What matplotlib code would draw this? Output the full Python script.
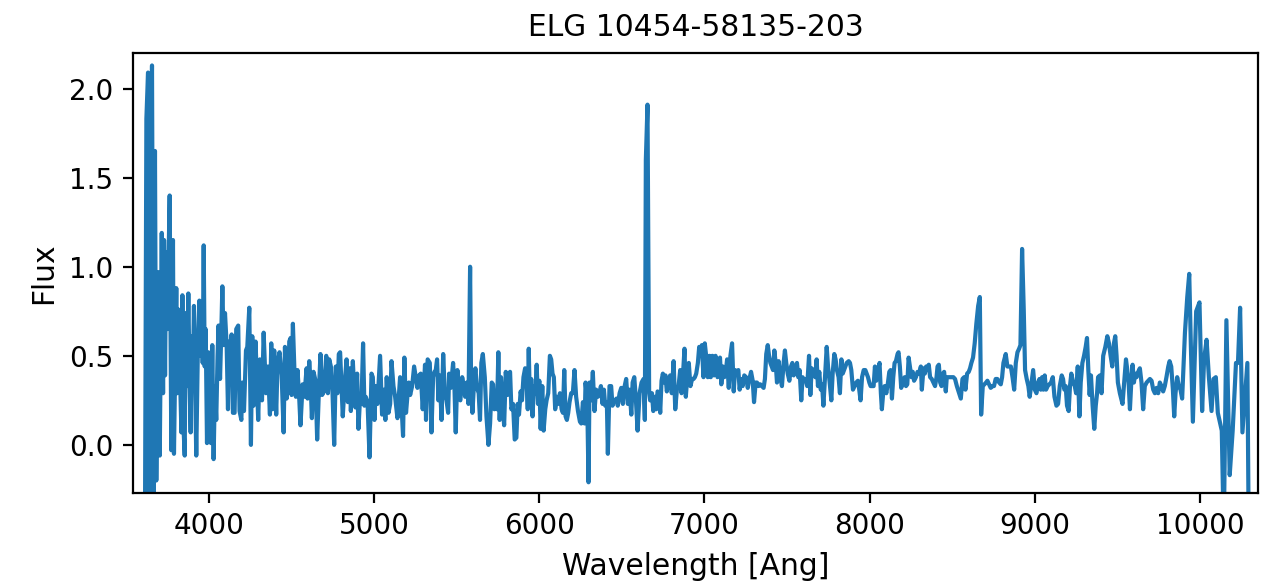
import matplotlib
matplotlib.use("Agg")
import matplotlib.pyplot as plt
import numpy as np

## Espectro leído por tramos (longitud de onda en Angstrom, flujo)
wave_a = [3612, 3621, 3631, 3640, 3648, 3655, 3665, 3673, 3681, 3694, 3702, 3714, 3722, 3728, 3734, 3740, 3748, 3762, 3772, 3782,
          3788, 3802, 3808, 3815, 3823, 3833, 3839, 3847, 3853, 3859, 3867, 3875, 3883, 3889, 3895, 3903, 3909, 3915, 3923, 3933,
          3942, 3950, 3956, 3962, 3968, 3974, 3980, 3988, 3996, 4004, 4012, 4020, 4028, 4036, 4044, 4052, 4058, 4067, 4075, 4081,
          4089, 4097, 4107, 4115, 4121, 4129, 4137, 4145, 4155, 4165, 4177, 4185, 4196, 4202]
flux_a = [-0.6, 1.83, 2.09, -0.5, 1.6, 2.13, -0.4, 1.65, -0.2, 0.97, -0.06, 1.19, 0.29, 1.15, 0.39, 1.08, 0.65, 1.40, -0.03, 1.15,
          -0.05, 0.88, 0.29, 0.76, 0.46, 0.07, 0.84, 0.07, -0.06, 0.74, 0.33, 0.85, 0.33, 0.07, 0.61, 0.40, 0.78, 0.39, -0.06, 0.56,
          0.81, 0.50, 0.76, 0.46, 1.12, 0.44, 0.65, 0.01, 0.52, 0.50, 0.01, 0.56, -0.08, 0.33, 0.14, 0.50, 0.67, 0.37, 0.65, 0.89,
          0.56, 0.74, 0.56, 0.20, 0.58, 0.40, 0.62, 0.18, 0.18, 0.65, 0.67, 0.19, 0.14, 0.35]

wave_b = [4212, 4224, 4232, 4244, 4254, 4262, 4270, 4282, 4298, 4308, 4321, 4331, 4345, 4357, 4369, 4377, 4385, 4395, 4407, 4415,
          4427, 4440, 4452, 4460, 4470, 4482, 4486, 4494, 4500, 4508, 4518, 4526, 4536, 4546, 4554, 4567, 4577, 4591, 4597, 4607,
          4615, 4623, 4633, 4645, 4655, 4665, 4675, 4685, 4696, 4710, 4720, 4728, 4738, 4748, 4758, 4768, 4778, 4786]
flux_b = [0.19, 0.53, 0.55, 0.77, 0.0, 0.61, 0.22, 0.58, 0.14, 0.48, 0.25, 0.63, 0.29, 0.44, 0.17, 0.57, 0.20, 0.53, 0.17, 0.46,
          0.52, 0.39, 0.07, 0.55, 0.26, 0.38, 0.58, 0.60, 0.28, 0.68, 0.40, 0.27, 0.42, 0.27, 0.11, 0.34, 0.27, 0.43, 0.26, 0.47,
          0.36, 0.15, 0.41, 0.36, 0.03, 0.29, 0.51, 0.28, 0.30, 0.50, 0.29, 0.48, 0.44, 0.29, 0.0, 0.44, 0.29, 0.51]

wave_c = [4794, 4810, 4822, 4833, 4841, 4851, 4859, 4871, 4879, 4887, 4897, 4905, 4915, 4923, 4933, 4941, 4949, 4960, 4972, 4984,
          4992, 5002, 5010, 5020, 5036, 5048, 5058, 5068, 5076, 5087, 5097, 5105, 5117, 5127, 5141, 5157, 5167, 5175, 5183, 5193,
          5201, 5210, 5218, 5230, 5242, 5252, 5262, 5272, 5282, 5294, 5302, 5308, 5314, 5324, 5337, 5347, 5357, 5365]
flux_c = [0.52, 0.16, 0.35, 0.48, 0.24, 0.43, 0.19, 0.47, 0.31, 0.21, 0.40, 0.09, 0.27, 0.23, 0.57, 0.22, 0.27, 0.24, -0.07, 0.40,
          0.38, 0.14, 0.33, 0.23, 0.50, 0.17, 0.31, 0.14, 0.38, 0.18, 0.23, 0.47, 0.33, 0.27, 0.15, 0.38, 0.19, 0.05, 0.49, 0.18,
          0.27, 0.35, 0.28, 0.33, 0.44, 0.38, 0.32, 0.39, 0.40, 0.20, 0.35, 0.45, 0.14, 0.48, 0.46, 0.07, 0.38, 0.41]

wave_d = [5373, 5381, 5389, 5397, 5408, 5418, 5428, 5438, 5448, 5454, 5464, 5478, 5486, 5494, 5504, 5512, 5522, 5533, 5543, 5551,
          5561, 5571, 5581, 5587, 5595, 5605, 5613, 5623, 5633, 5641, 5649, 5658, 5670, 5680, 5692, 5702, 5712, 5720, 5728, 5736,
          5744, 5752, 5760, 5768, 5776, 5787, 5797, 5807, 5815, 5823, 5831, 5841, 5851, 5861, 5869, 5877, 5887, 5895, 5904, 5914,
          5922, 5930, 5936]
flux_d = [0.42, 0.48, 0.25, 0.39, 0.14, 0.51, 0.29, 0.25, 0.18, 0.40, 0.32, 0.46, 0.33, 0.07, 0.42, 0.27, 0.25, 0.38, 0.33, 0.27,
          0.35, 0.23, 1.0, 0.33, 0.18, 0.35, 0.43, 0.32, 0.29, 0.14, 0.46, 0.51, 0.38, 0.16, 0.0, 0.12, 0.35, 0.34, 0.20, 0.27,
          0.20, 0.52, 0.14, 0.38, 0.25, 0.11, 0.41, 0.28, 0.40, 0.41, 0.20, 0.23, 0.03, 0.04, 0.23, 0.17, 0.30, 0.25, 0.38, 0.43,
          0.39, 0.20, 0.54]

wave_e = [5943, 5951, 5959, 5967, 5976, 5984, 5992, 6000, 6008, 6018, 6026, 6036, 6044, 6054, 6064, 6072, 6080, 6088, 6096, 6107,
          6115, 6125, 6135, 6143, 6151, 6159, 6167, 6175, 6183, 6193, 6203, 6213, 6223, 6234, 6246, 6254, 6264, 6274, 6280, 6290,
          6298, 6304, 6314, 6324, 6334, 6344, 6355, 6363, 6373, 6383, 6391, 6399, 6409, 6415, 6425, 6435, 6443, 6451, 6459, 6467,
          6475, 6486, 6496, 6506, 6512]
flux_e = [0.23, 0.37, 0.16, 0.33, 0.29, 0.45, 0.23, 0.36, 0.09, 0.33, 0.08, 0.20, 0.25, 0.29, 0.50, 0.48, 0.40, 0.38, 0.20, 0.27,
          0.23, 0.29, 0.20, 0.18, 0.42, 0.16, 0.14, 0.18, 0.24, 0.29, 0.29, 0.42, 0.27, 0.19, 0.13, 0.12, 0.24, 0.12, 0.35, 0.25,
          -0.21, 0.35, 0.25, 0.41, 0.19, 0.31, 0.27, 0.29, 0.33, 0.23, 0.31, 0.22, 0.24, -0.05, 0.33, 0.33, 0.22, 0.25, 0.25, 0.26,
          0.22, 0.29, 0.32, 0.23, 0.31]

wave_f = [6526, 6536, 6546, 6557, 6565, 6575, 6585, 6595, 6607, 6619, 6631, 6639, 6645, 6655, 6665, 6671, 6682, 6690, 6700, 6708,
          6716, 6724, 6732, 6740, 6748, 6756, 6764, 6772, 6782, 6792, 6802, 6813, 6823, 6833, 6843, 6853, 6861, 6869, 6879, 6887,
          6895, 6905, 6915, 6925, 6934, 6942, 6950, 6960, 6968, 6976, 6984, 6994, 7002, 7010, 7020, 7030, 7038, 7048, 7058, 7067,
          7079, 7087]
flux_f = [0.37, 0.23, 0.31, 0.17, 0.35, 0.38, 0.25, 0.08, 0.29, 0.35, 0.37, 0.14, 1.60, 1.91, 0.29, 0.25, 0.29, 0.19, 0.27, 0.20,
          0.30, 0.29, 0.18, 0.36, 0.40, 0.35, 0.39, 0.30, 0.35, 0.39, 0.29, 0.47, 0.20, 0.31, 0.33, 0.42, 0.29, 0.38, 0.54, 0.27,
          0.37, 0.46, 0.33, 0.37, 0.37, 0.38, 0.40, 0.46, 0.55, 0.50, 0.56, 0.38, 0.57, 0.50, 0.38, 0.50, 0.38, 0.50, 0.39, 0.50,
          0.38, 0.44]

wave_g = [7094, 7102, 7112, 7120, 7129, 7137, 7147, 7157, 7167, 7177, 7185, 7195, 7205, 7213, 7221, 7231, 7241, 7252, 7262, 7272,
          7282, 7292, 7300, 7310, 7318, 7328, 7338, 7348, 7358, 7366, 7374, 7383, 7391, 7399, 7407, 7415, 7423, 7431, 7439, 7449,
          7459, 7469, 7479, 7487, 7495, 7504, 7514, 7524, 7532, 7540, 7550, 7560, 7568, 7576, 7586, 7594, 7604, 7612, 7622, 7633,
          7641, 7649, 7657]
flux_g = [0.49, 0.34, 0.44, 0.38, 0.41, 0.48, 0.32, 0.50, 0.57, 0.30, 0.42, 0.41, 0.42, 0.31, 0.37, 0.33, 0.39, 0.38, 0.32, 0.37,
          0.41, 0.36, 0.24, 0.35, 0.35, 0.33, 0.34, 0.33, 0.32, 0.37, 0.51, 0.56, 0.50, 0.46, 0.44, 0.42, 0.53, 0.46, 0.35, 0.47,
          0.38, 0.33, 0.46, 0.53, 0.46, 0.40, 0.36, 0.44, 0.46, 0.39, 0.41, 0.46, 0.38, 0.42, 0.25, 0.38, 0.36, 0.37, 0.33, 0.50,
          0.28, 0.43, 0.42]

wave_h = [7671, 7679, 7687, 7695, 7704, 7712, 7720, 7730, 7740, 7748, 7758, 7768, 7776, 7786, 7794, 7802, 7812, 7820, 7829, 7837,
          7845, 7853, 7861, 7873, 7881, 7889, 7899, 7909, 7919, 7929, 7937, 7945, 7954, 7964, 7974, 7982, 7990, 7998, 8006, 8014,
          8024, 8032, 8040, 8050, 8060, 8068, 8074, 8082, 8091, 8101, 8111, 8119, 8127, 8135, 8143, 8151, 8159, 8169, 8175, 8183,
          8191, 8201, 8212, 8220, 8228, 8236]
flux_h = [0.38, 0.48, 0.33, 0.41, 0.31, 0.34, 0.22, 0.38, 0.55, 0.44, 0.35, 0.25, 0.40, 0.51, 0.48, 0.42, 0.38, 0.29, 0.48, 0.40,
          0.42, 0.44, 0.46, 0.47, 0.46, 0.42, 0.31, 0.33, 0.35, 0.36, 0.31, 0.25, 0.38, 0.42, 0.42, 0.40, 0.38, 0.35, 0.33, 0.33,
          0.33, 0.44, 0.36, 0.42, 0.46, 0.29, 0.20, 0.29, 0.33, 0.29, 0.35, 0.41, 0.42, 0.26, 0.38, 0.46, 0.47, 0.51, 0.52, 0.44,
          0.32, 0.35, 0.38, 0.33, 0.34, 0.49]

wave_i = [8253, 8261, 8269, 8280, 8290, 8300, 8310, 8316, 8326, 8334, 8342, 8350, 8358, 8366, 8376, 8386, 8396, 8405, 8411, 8419,
          8427, 8435, 8443, 8451, 8461, 8467, 8477, 8487, 8497, 8507, 8517, 8528, 8542, 8552, 8562, 8572, 8580, 8590, 8600, 8608,
          8616, 8626, 8636, 8646, 8657, 8667, 8675, 8685, 8695, 8705, 8713, 8723, 8733, 8743, 8753, 8763, 8773, 8784, 8794, 8802,
          8810]
flux_i = [0.38, 0.41, 0.36, 0.38, 0.41, 0.40, 0.44, 0.31, 0.43, 0.40, 0.44, 0.42, 0.45, 0.38, 0.37, 0.35, 0.33, 0.38, 0.44, 0.45,
          0.35, 0.33, 0.40, 0.41, 0.30, 0.38, 0.38, 0.38, 0.38, 0.38, 0.37, 0.33, 0.29, 0.26, 0.37, 0.38, 0.31, 0.40, 0.41, 0.43,
          0.46, 0.49, 0.57, 0.68, 0.78, 0.83, 0.17, 0.33, 0.34, 0.35, 0.36, 0.34, 0.32, 0.33, 0.33, 0.37, 0.37, 0.35, 0.34, 0.38,
          0.46]

wave_j = [8824, 8834, 8844, 8855, 8865, 8875, 8885, 8895, 8905, 8913, 8923, 8933, 8941, 8951, 8961, 8969, 8980, 8990, 9000, 9010,
          9020, 9028, 9036, 9044, 9052, 9060, 9068, 9078, 9088, 9098, 9109, 9119, 9131, 9141, 9151, 9163, 9171, 9179, 9187, 9195,
          9205, 9213, 9221, 9232, 9242, 9250, 9260, 9270, 9278, 9288, 9298, 9308, 9316, 9324, 9332, 9340, 9350, 9360, 9369, 9377,
          9383]
flux_j = [0.51, 0.44, 0.44, 0.44, 0.38, 0.31, 0.46, 0.52, 0.54, 0.56, 1.10, 0.76, 0.42, 0.37, 0.33, 0.27, 0.35, 0.42, 0.31, 0.29,
          0.35, 0.37, 0.31, 0.38, 0.31, 0.39, 0.31, 0.33, 0.34, 0.35, 0.38, 0.27, 0.22, 0.23, 0.33, 0.39, 0.37, 0.31, 0.33, 0.22,
          0.19, 0.33, 0.40, 0.35, 0.33, 0.29, 0.44, 0.16, 0.35, 0.46, 0.50, 0.55, 0.60, 0.42, 0.28, 0.39, 0.22, 0.09, 0.22, 0.29,
          0.38]

wave_k = [9394, 9404, 9414, 9427, 9439, 9449, 9459, 9469, 9479, 9487, 9495, 9503, 9515, 9531, 9541, 9552, 9560, 9568, 9576, 9584,
          9592, 9600, 9608, 9616, 9626, 9636, 9646, 9656, 9666, 9677, 9687, 9697, 9707, 9717, 9727, 9737, 9747, 9757, 9767, 9777,
          9787, 9797, 9808, 9816, 9826, 9836, 9844, 9852, 9862, 9872, 9882, 9892]
flux_k = [0.39, 0.29, 0.50, 0.55, 0.61, 0.57, 0.50, 0.44, 0.57, 0.61, 0.50, 0.35, 0.29, 0.23, 0.35, 0.48, 0.42, 0.35, 0.20, 0.35,
          0.45, 0.35, 0.40, 0.38, 0.41, 0.43, 0.35, 0.20, 0.33, 0.35, 0.36, 0.37, 0.36, 0.31, 0.29, 0.32, 0.29, 0.35, 0.33, 0.30,
          0.33, 0.38, 0.44, 0.47, 0.44, 0.31, 0.16, 0.29, 0.38, 0.33, 0.31, 0.26]

wave_l = [9909, 9923, 9935, 9945, 9957, 9977, 9997, 10013, 10025, 10040, 10054, 10070, 10082, 10096, 10108, 10122, 10132, 10144,
          10160, 10180, 10198, 10218, 10230, 10243, 10257, 10287, 10296]
flux_l = [0.63, 0.83, 0.96, 0.55, 0.13, 0.75, 0.80, 0.19, 0.48, 0.59, 0.38, 0.19, 0.37, 0.38, 0.18, 0.12, 0.08, -0.5,
          0.70, -0.17, 0.08, 0.46, 0.46, 0.77, 0.07, 0.46, -0.6]

titulo = 'ELG 10454-58135-203'

wave = np.concatenate([wave_a, wave_b, wave_c, wave_d, wave_e, wave_f,
                       wave_g, wave_h, wave_i, wave_j, wave_k, wave_l])
flux = np.concatenate([flux_a, flux_b, flux_c, flux_d, flux_e, flux_f,
                       flux_g, flux_h, flux_i, flux_j, flux_k, flux_l])

## Figura
fig = plt.figure(figsize=(6.37, 2.94), dpi=200)
ax = fig.add_axes([0.1044, 0.1616, 0.883, 0.7483])
ax.plot(wave, flux, color='#1f77b4', linewidth=1.5)
ax.set_xlim(3540, 10351)
ax.set_ylim(-0.27, 2.2)
ax.set_yticks([0.0, 0.5, 1.0, 1.5, 2.0])
ax.set_title(titulo, fontsize=10.7)
ax.set_xlabel('Wavelength [Ang]', fontsize=10.7)
ax.set_ylabel('Flux', fontsize=10.7)
ax.tick_params(labelsize=10)

fig.savefig('out.png', dpi=200)
